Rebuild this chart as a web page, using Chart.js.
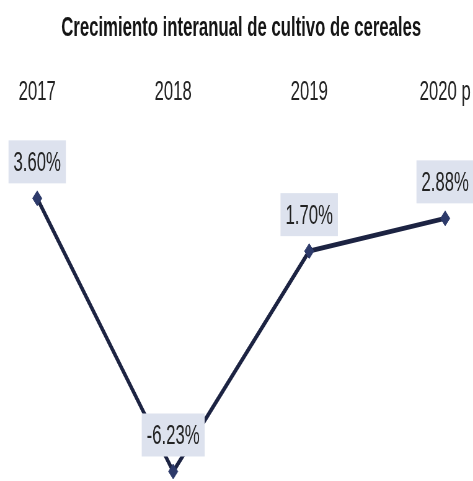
<!DOCTYPE html>
<html lang="es">
<head>
<meta charset="UTF-8">
<title>Crecimiento interanual de cultivo de cereales</title>
<script src="https://cdn.jsdelivr.net/npm/chart.js"></script>
<style>
    html, body { margin: 0; padding: 0; background: #ffffff; overflow: hidden; }
    .wrap { width: 473px; height: 481px; overflow: hidden; }
    /* la imagen original está comprimida en horizontal */
    #chart { transform: scaleX(0.62); transform-origin: 0 0; }
</style>
</head>
<body>
<div class="wrap">
    <canvas id="chart" width="763" height="481"></canvas>
</div>
<script>
const years = ['2017', '2018', '2019', '2020 p'];
const growth = [3.60, -6.23, 1.70, 2.88];
const yRange = [-6.5, 6.7];

const FONT = "'Liberation Sans', Arial, sans-serif";

// etiquetas con fondo sobre cada punto
const valueBoxes = {
    id: 'valueBoxes',
    afterDatasetsDraw(chart) {
        const ctx = chart.ctx;
        const meta = chart.getDatasetMeta(0);
        ctx.save();
        ctx.font = '27px ' + FONT;
        ctx.textAlign = 'center';
        ctx.textBaseline = 'middle';
        meta.data.forEach((pt, i) => {
            const text = growth[i].toFixed(2) + '%';
            const w = ctx.measureText(text).width + 16;
            const h = 43;
            const bottom = pt.y - 15;
            ctx.fillStyle = '#dde2ee';
            ctx.fillRect(pt.x - w / 2, bottom - h, w, h);
            ctx.fillStyle = '#222222';
            ctx.fillText(text, pt.x, bottom - h / 2 + 2);
        });
        ctx.restore();
    }
};

new Chart(document.getElementById('chart'), {
    type: 'line',
    data: {
        labels: years,
        datasets: [{
            data: growth,
            borderColor: '#1c2342',
            borderWidth: 5,
            pointStyle: 'rectRot',
            pointRadius: 7.5,
            pointBackgroundColor: '#2d3a6a',
            pointBorderColor: '#2d3a6a',
            pointBorderWidth: 1,
            tension: 0,
            clip: false
        }]
    },
    options: {
        responsive: false,
        devicePixelRatio: 1,
        animation: false,
        layout: { autoPadding: false, padding: { left: 60, right: 45, top: 0, bottom: 2 } },
        plugins: {
            legend: { display: false },
            tooltip: { enabled: false },
            title: {
                display: true,
                text: 'Crecimiento interanual de cultivo de cereales',
                color: '#151515',
                font: { family: FONT, size: 27, weight: 'bold' },
                padding: { top: 12.8, bottom: 28.6 }
            }
        },
        scales: {
            x: {
                position: 'top',
                offset: false,
                grid: { display: false, drawTicks: false },
                border: { display: false },
                ticks: {
                    color: '#222222',
                    font: { family: FONT, size: 27 },
                    padding: 3,
                    maxRotation: 0
                }
            },
            y: {
                display: false,
                min: yRange[0],
                max: yRange[1]
            }
        }
    },
    plugins: [valueBoxes]
});
</script>
</body>
</html>
